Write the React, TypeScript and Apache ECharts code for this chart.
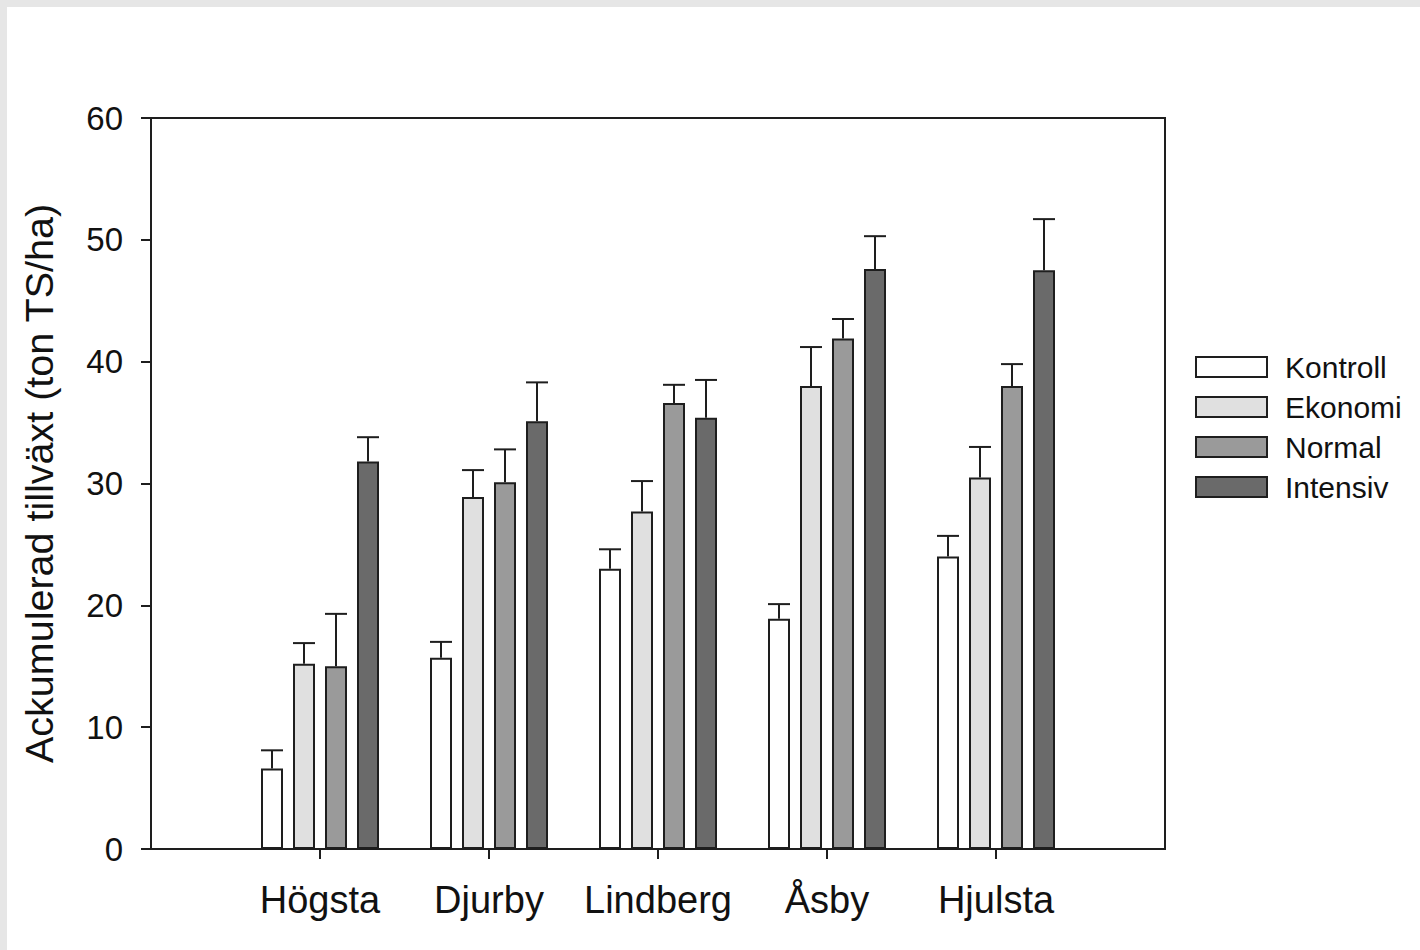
import React, { useEffect, useRef } from "react";
import * as echarts from "echarts";

const categories = [" ", "Högsta", "Djurby", "Lindberg", "Åsby", "Hjulsta", "  "];
const seriesNames = ["Kontroll", "Ekonomi", "Normal", "Intensiv"];
const kontroll = [6.6, 15.7, 23.0, 18.9, 24.0];
const kontrollErr = [1.5, 1.3, 1.6, 1.2, 1.7];
const ekonomi = [15.2, 28.9, 27.7, 38.0, 30.5];
const ekonomiErr = [1.7, 2.2, 2.5, 3.2, 2.5];
const normal = [15.0, 30.1, 36.6, 41.9, 38.0];
const normalErr = [4.3, 2.7, 1.5, 1.6, 1.8];
const intensiv = [31.8, 35.1, 35.4, 47.6, 47.5];
const intensivErr = [2.0, 3.2, 3.1, 2.7, 4.2];
const yTicks = [0, 10, 20, 30, 40, 50, 60];

const values = [kontroll, ekonomi, normal, intensiv];
const errors = [kontrollErr, ekonomiErr, normalErr, intensivErr];
const colors = ["#ffffff", "#e0e0e0", "#9a9a9a", "#6a6a6a"];

const BAR_W = 22;
const BAR_GAP = 10;
const INK = "#1e1e1e";
const FONT = "Liberation Sans, Arial, sans-serif";

export default function App() {
  const ref = useRef<HTMLDivElement>(null);
  useEffect(() => {
    if (!ref.current) return;
    const chart = echarts.init(ref.current, null, { renderer: "svg" });
    const pitch = BAR_W + BAR_GAP;
    const barSeries = seriesNames.map((name, si) => ({
      name,
      type: "bar",
      barWidth: BAR_W,
      barGap: `${(BAR_GAP / BAR_W) * 100}%`,
      itemStyle: { color: colors[si], borderColor: INK, borderWidth: 2 },
      data: [null, ...values[si], null],
      z: 2,
    }));
    const errSeries = seriesNames.map((_, si) => ({
      type: "custom",
      z: 3,
      silent: true,
      encode: { x: 0, y: 1 },
      data: values[si].map((v, i) => [i + 1, v, errors[si][i]]),
      renderItem: (params: any, api: any) => {
        const ci = api.value(0);
        const v = api.value(1);
        const e = api.value(2);
        const base = api.coord([ci, v]);
        const top = api.coord([ci, v + e]);
        const x = base[0] + (si - 1.5) * pitch;
        const st = { stroke: INK, lineWidth: 2 };
        return {
          type: "group",
          children: [
            { type: "line", shape: { x1: x, y1: base[1], x2: x, y2: top[1] }, style: st },
            { type: "line", shape: { x1: x - BAR_W / 2, y1: top[1], x2: x + BAR_W / 2, y2: top[1] }, style: st },
          ],
        };
      },
    }));
    chart.setOption({
      animation: false,
      backgroundColor: "#ffffff",
      textStyle: { fontFamily: FONT },
      graphic: [
        { type: "rect", shape: { x: 0, y: 0, width: 7, height: 950 }, style: { fill: "#e6e6e6" } },
        { type: "rect", shape: { x: 0, y: 0, width: 1420, height: 7 }, style: { fill: "#e6e6e6" } },
      ],
      grid: {
        left: 151,
        top: 118,
        right: 255,
        bottom: 101,
        show: true,
        borderColor: INK,
        borderWidth: 2,
        backgroundColor: "transparent",
      },
      legend: {
        data: seriesNames,
        orient: "vertical",
        left: 1195,
        top: 352,
        padding: 0,
        itemWidth: 71,
        itemHeight: 20,
        itemGap: 10,
        icon: "rect",
        itemStyle: { borderColor: INK, borderWidth: 2 },
        textStyle: { fontSize: 30, color: "#111", lineHeight: 20, padding: [0, 0, 0, 13], fontFamily: FONT },
      },
      xAxis: {
        type: "category",
        data: categories,
        boundaryGap: false,
        axisLine: { lineStyle: { color: INK, width: 2 } },
        axisTick: {
          length: 10,
          lineStyle: { color: INK, width: 2 },
          interval: (_i: number, val: string) => val.trim() !== "",
        },
        axisLabel: { interval: 0, fontSize: 38, color: "#111", margin: 32, fontFamily: FONT },
        splitLine: { show: false },
      },
      yAxis: {
        type: "value",
        min: yTicks[0],
        max: yTicks[yTicks.length - 1],
        interval: 10,
        name: "Ackumulerad tillväxt (ton TS/ha)",
        nameLocation: "middle",
        nameGap: 92,
        nameTextStyle: { fontSize: 39.5, color: "#111", fontFamily: FONT },
        axisLine: { show: true, lineStyle: { color: INK, width: 2 } },
        axisTick: { show: true, length: 10, lineStyle: { color: INK, width: 2 } },
        axisLabel: { fontSize: 33, color: "#111", margin: 28, fontFamily: FONT },
        splitLine: { show: false },
      },
      series: [...barSeries, ...errSeries],
    });
    return () => chart.dispose();
  }, []);
  return (
    <div
      ref={ref}
      style={{ position: "fixed", left: 0, top: 0, width: 1420, height: 950, background: "#fff" }}
    />
  );
}
